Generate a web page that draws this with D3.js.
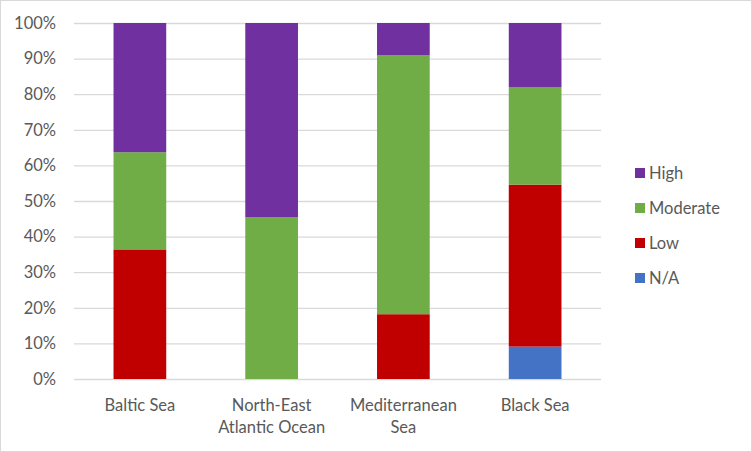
<!DOCTYPE html>
<html>
<head>
<meta charset="utf-8">
<script src="https://cdn.jsdelivr.net/npm/d3@7"></script>
<style>
	body { margin: 0; background: #fff; }
	text { font-family: Lato, "Open Sans", sans-serif; fill: #595959; }
</style>
</head>
<body>
<svg id="chart" width="752" height="452"></svg>
<script>
// ________ data ________
const categories = [['Baltic Sea'], ['North-East', 'Atlantic Ocean'], ['Mediterranean', 'Sea'], ['Black Sea']];
const seriesNames = ['N/A', 'Low', 'Moderate', 'High'];
const naValues = [0, 0, 0, 9.1];
const lowValues = [36.4, 0, 18.2, 45.5];
const moderateValues = [27.3, 45.5, 72.7, 27.3];
const highValues = [36.3, 54.5, 9.1, 18.1];
const yTicks = [0, 10, 20, 30, 40, 50, 60, 70, 80, 90, 100];
const colors = ['#4472C4', '#C00000', '#70AD47', '#7030A0'];

// ________ layout ________
const svg = d3.select('#chart');
const W = 752, H = 452;
const plot = {left: 74, right: 601, top: 23, bottom: 379};
const fontSize = '16.5px';

svg.append('rect')
	.attr('x', 0.5).attr('y', 0.5)
	.attr('width', W - 1).attr('height', H - 1)
	.attr('fill', '#fff').attr('stroke', '#d9d9d9');

const rows = categories.map((c, i) => ({
	key: i,
	'N/A': naValues[i],
	'Low': lowValues[i],
	'Moderate': moderateValues[i],
	'High': highValues[i]
}));
const stacked = d3.stack().keys(seriesNames)(rows);

const x = d3.scaleBand()
	.domain(categories.map((c, i) => i))
	.range([plot.left, plot.right])
	.paddingInner(0.6)
	.paddingOuter(0.3);
const y = d3.scaleLinear().domain([0, 100]).range([plot.bottom, plot.top]);
const color = d3.scaleOrdinal().domain(seriesNames).range(colors);

// gridlines + y labels
const yAxis = svg.append('g')
	.attr('transform', `translate(${plot.left},0)`)
	.call(d3.axisLeft(y).tickValues(yTicks).tickFormat(d => d + '%')
		.tickSize(-(plot.right - plot.left)).tickPadding(18));
yAxis.select('.domain').remove();
yAxis.selectAll('.tick line').attr('stroke', '#d9d9d9').attr('stroke-width', 1.3);
yAxis.selectAll('.tick text').style('font-size', fontSize).style('font-family', 'Lato, "Open Sans", sans-serif').attr('fill', '#595959');

// bars
svg.append('g').selectAll('g')
	.data(stacked)
	.join('g')
	.attr('fill', d => color(d.key))
	.selectAll('rect')
	.data(d => d)
	.join('rect')
	.attr('x', d => x(d.data.key))
	.attr('width', x.bandwidth())
	.attr('y', d => y(d[1]))
	.attr('height', d => y(d[0]) - y(d[1]));

// x labels
const xl = svg.append('g').selectAll('text')
	.data(categories)
	.join('text')
	.attr('text-anchor', 'middle')
	.attr('x', (d, i) => x(i) + x.bandwidth() / 2)
	.attr('y', 411)
	.style('font-size', fontSize);
xl.selectAll('tspan')
	.data(d => d)
	.join('tspan')
	.attr('x', function() { return this.parentNode.getAttribute('x'); })
	.attr('dy', (d, i) => i ? 22 : 0)
	.text(d => d);

// legend (reverse order: High on top)
const legend = svg.append('g').selectAll('g')
	.data(seriesNames.slice().reverse())
	.join('g')
	.attr('transform', (d, i) => `translate(635,${173 + i * 35})`);
legend.append('rect')
	.attr('x', 0).attr('y', -5)
	.attr('width', 10).attr('height', 10)
	.attr('fill', d => color(d));
legend.append('text')
	.attr('x', 14).attr('y', 0)
	.attr('dy', '0.35em')
	.style('font-size', fontSize)
	.text(d => d);
</script>
</body>
</html>
